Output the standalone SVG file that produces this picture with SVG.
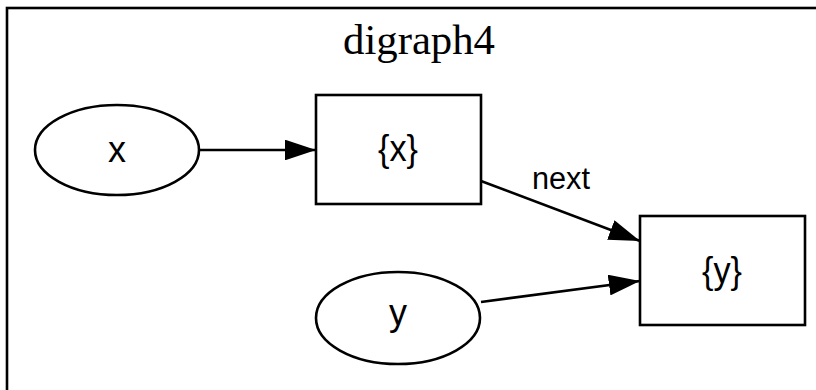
<svg xmlns="http://www.w3.org/2000/svg" width="816" height="390" viewBox="0 0 816 390">
<style>
.s{fill:none;stroke:#000;stroke-width:2.6}
.t{font-family:"Liberation Sans",Arial,sans-serif;font-size:37px;text-anchor:middle;fill:#000}
.e{stroke:#000;stroke-width:2.6;fill:none}
.title{font-family:"Liberation Serif","Times New Roman",serif;font-size:42px;text-anchor:middle;fill:#000}
</style>
<defs>
<marker id="a" markerWidth="12" markerHeight="8" refX="12" refY="4" orient="auto" markerUnits="strokeWidth">
<path d="M0,0 L12,4 L0,8 z" fill="#000"/>
</marker>
</defs>
<rect width="816" height="390" fill="#fff"/>
<g id="cluster">
<rect x="7" y="8" width="830" height="400" class="s"/>
<text x="419" y="54" class="title" textLength="152" lengthAdjust="spacingAndGlyphs">digraph4</text>
</g>
<g id="node-x">
<ellipse cx="117" cy="150" rx="82" ry="45" class="s"/>
<text x="117" y="162" class="t" textLength="18" lengthAdjust="spacingAndGlyphs">x</text>
</g>
<g id="node-bx">
<rect x="316" y="95" width="165" height="109" class="s"/>
<text x="398" y="161" class="t" textLength="40" lengthAdjust="spacingAndGlyphs">{x}</text>
</g>
<g id="node-y">
<ellipse cx="398" cy="318" rx="82" ry="46" class="s"/>
<text x="398" y="325" class="t" textLength="18" lengthAdjust="spacingAndGlyphs">y</text>
</g>
<g id="node-by">
<rect x="640" y="216" width="165" height="109" class="s"/>
<text x="722" y="283" class="t" textLength="40" lengthAdjust="spacingAndGlyphs">{y}</text>
</g>
<g id="edges">
<line x1="200" y1="150" x2="316" y2="150" class="e" marker-end="url(#a)"/>
<line x1="481" y1="181" x2="640" y2="241" class="e" marker-end="url(#a)"/>
<text x="561" y="189" class="t" style="font-size:31px" textLength="58" lengthAdjust="spacingAndGlyphs">next</text>
<line x1="481" y1="302" x2="640" y2="281" class="e" marker-end="url(#a)"/>
</g>
</svg>
